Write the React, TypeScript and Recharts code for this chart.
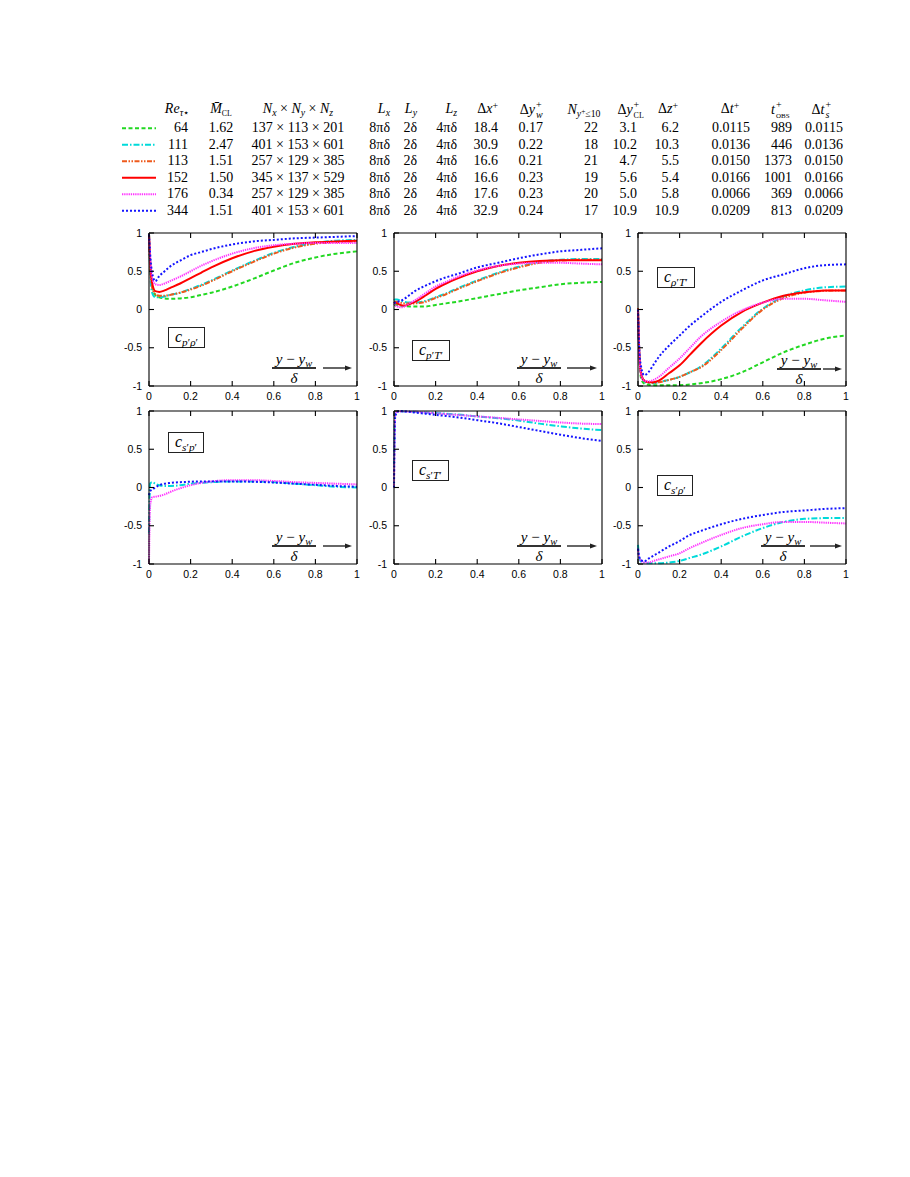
import React from "react";
import { LineChart, Line, XAxis, YAxis } from "recharts";

// wall distance (y - y_w)/delta, shared by every profile
const X = [0, 0.005, 0.015, 0.03, 0.05, 0.075, 0.1, 0.15, 0.2, 0.25, 0.3, 0.4, 0.5, 0.6, 0.7, 0.8, 0.9, 1];
const X_TICKS = [0, 0.2, 0.4, 0.6, 0.8, 1];
const Y_TICKS = [-1, -0.5, 0, 0.5, 1];

// c_{p'rho'}
const pRho64 = [0.98, 0.65, 0.3, 0.19, 0.16, 0.145, 0.14, 0.145, 0.16, 0.19, 0.22, 0.3, 0.4, 0.51, 0.61, 0.68, 0.73, 0.76];
const pRho111 = [0.98, 0.55, 0.22, 0.16, 0.16, 0.17, 0.19, 0.22, 0.27, 0.32, 0.38, 0.51, 0.63, 0.74, 0.82, 0.87, 0.9, 0.91];
const pRho113 = [0.98, 0.6, 0.3, 0.2, 0.18, 0.18, 0.19, 0.22, 0.26, 0.31, 0.37, 0.5, 0.62, 0.73, 0.81, 0.86, 0.88, 0.89];
const pRho152 = [0.98, 0.65, 0.35, 0.24, 0.23, 0.25, 0.28, 0.34, 0.41, 0.48, 0.55, 0.67, 0.76, 0.82, 0.86, 0.88, 0.89, 0.9];
const pRho176 = [0.98, 0.7, 0.42, 0.33, 0.32, 0.34, 0.37, 0.43, 0.5, 0.57, 0.63, 0.73, 0.8, 0.84, 0.86, 0.87, 0.87, 0.87];
const pRho344 = [0.98, 0.75, 0.48, 0.37, 0.44, 0.5, 0.56, 0.64, 0.71, 0.75, 0.79, 0.85, 0.89, 0.91, 0.93, 0.94, 0.95, 0.96];

// c_{p'T'}
const pT64 = [0.06, 0.06, 0.06, 0.05, 0.045, 0.04, 0.04, 0.04, 0.06, 0.08, 0.1, 0.15, 0.2, 0.25, 0.29, 0.33, 0.35, 0.36];
const pT111 = [0.12, 0.13, 0.13, 0.12, 0.1, 0.09, 0.09, 0.11, 0.16, 0.21, 0.27, 0.38, 0.48, 0.56, 0.62, 0.65, 0.66, 0.66];
const pT113 = [0.1, 0.1, 0.1, 0.09, 0.08, 0.08, 0.08, 0.1, 0.15, 0.2, 0.26, 0.37, 0.47, 0.55, 0.61, 0.64, 0.65, 0.65];
const pT152 = [0.1, 0.09, 0.08, 0.06, 0.05, 0.07, 0.1, 0.18, 0.27, 0.34, 0.4, 0.5, 0.57, 0.61, 0.635, 0.645, 0.645, 0.645];
const pT176 = [0.08, 0.06, 0.04, 0.03, 0.04, 0.08, 0.12, 0.21, 0.3, 0.36, 0.42, 0.51, 0.57, 0.6, 0.61, 0.61, 0.6, 0.59];
const pT344 = [0.08, 0.09, 0.1, 0.11, 0.14, 0.19, 0.24, 0.31, 0.37, 0.42, 0.46, 0.55, 0.61, 0.67, 0.72, 0.76, 0.78, 0.8];

// c_{rho'T'}
const rhoT64 = [0, -0.55, -0.9, -0.97, -0.985, -0.99, -0.99, -0.99, -0.99, -0.98, -0.965, -0.91, -0.82, -0.69, -0.56, -0.46, -0.38, -0.34];
const rhoT111 = [0, -0.5, -0.85, -0.94, -0.96, -0.965, -0.95, -0.92, -0.88, -0.82, -0.75, -0.51, -0.23, 0.01, 0.17, 0.25, 0.29, 0.3];
const rhoT113 = [0.02, -0.45, -0.82, -0.93, -0.95, -0.96, -0.95, -0.92, -0.88, -0.82, -0.76, -0.53, -0.25, 0, 0.15, 0.22, 0.245, 0.25];
const rhoT152 = [0, -0.5, -0.85, -0.93, -0.95, -0.95, -0.93, -0.83, -0.73, -0.59, -0.45, -0.21, -0.03, 0.09, 0.18, 0.225, 0.25, 0.25];
const rhoT176 = [0, -0.5, -0.85, -0.93, -0.94, -0.92, -0.88, -0.76, -0.64, -0.5, -0.36, -0.16, -0.01, 0.09, 0.14, 0.14, 0.12, 0.1];
const rhoT344 = [0, -0.45, -0.75, -0.86, -0.82, -0.72, -0.62, -0.47, -0.34, -0.21, -0.1, 0.1, 0.25, 0.38, 0.46, 0.54, 0.58, 0.59];

// c_{s'p'}
const sP111 = [-0.6, 0.05, 0.07, 0.05, 0.03, 0.02, 0.02, 0.03, 0.05, 0.06, 0.07, 0.08, 0.08, 0.07, 0.05, 0.03, 0.01, 0];
const sP176 = [-1, -0.25, -0.13, -0.12, -0.11, -0.09, -0.06, -0.01, 0.03, 0.06, 0.08, 0.095, 0.095, 0.085, 0.07, 0.06, 0.05, 0.04];
const sP344 = [-0.1, -0.05, -0.03, 0, 0.03, 0.05, 0.06, 0.07, 0.075, 0.08, 0.08, 0.08, 0.075, 0.065, 0.05, 0.035, 0.02, 0.01];

// c_{s'T'}
const sT111 = [0.3, 0.97, 0.99, 0.995, 0.995, 0.99, 0.99, 0.98, 0.975, 0.965, 0.955, 0.93, 0.905, 0.875, 0.835, 0.8, 0.77, 0.75];
const sT176 = [0, 0.95, 0.99, 0.995, 0.995, 0.99, 0.99, 0.98, 0.97, 0.96, 0.95, 0.93, 0.91, 0.89, 0.87, 0.85, 0.835, 0.83];
const sT344 = [0, 0.9, 0.99, 1, 0.995, 0.99, 0.98, 0.965, 0.95, 0.935, 0.92, 0.88, 0.84, 0.79, 0.74, 0.69, 0.645, 0.61];

// c_{s'rho'}
const sRho111 = [-0.75, -0.9, -0.97, -0.985, -0.99, -0.99, -0.99, -0.98, -0.96, -0.92, -0.88, -0.77, -0.64, -0.53, -0.45, -0.41, -0.4, -0.4];
const sRho176 = [-0.8, -0.9, -0.96, -0.98, -0.98, -0.96, -0.94, -0.9, -0.86, -0.79, -0.73, -0.62, -0.53, -0.48, -0.45, -0.45, -0.46, -0.47];
const sRho344 = [-0.8, -0.9, -0.95, -0.965, -0.93, -0.89, -0.85, -0.77, -0.7, -0.62, -0.57, -0.48, -0.41, -0.36, -0.32, -0.3, -0.28, -0.27];

// table of the six cases
const reTau = ["64", "111", "113", "152", "176", "344"];
const machCL = ["1.62", "2.47", "1.51", "1.50", "0.34", "1.51"];
const gridSize = ["137 × 113 × 201", "401 × 153 × 601", "257 × 129 × 385", "345 × 137 × 529", "257 × 129 × 385", "401 × 153 × 601"];
const lx = ["8πδ", "8πδ", "8πδ", "8πδ", "8πδ", "8πδ"];
const ly = ["2δ", "2δ", "2δ", "2δ", "2δ", "2δ"];
const lz = ["4πδ", "4πδ", "4πδ", "4πδ", "4πδ", "4πδ"];
const dxPlus = ["18.4", "30.9", "16.6", "16.6", "17.6", "32.9"];
const dywPlus = ["0.17", "0.22", "0.21", "0.23", "0.23", "0.24"];
const nyWall = ["22", "18", "21", "19", "20", "17"];
const dyclPlus = ["3.1", "10.2", "4.7", "5.6", "5.0", "10.9"];
const dzPlus = ["6.2", "10.3", "5.5", "5.4", "5.8", "10.9"];
const dtPlus = ["0.0115", "0.0136", "0.0150", "0.0166", "0.0066", "0.0209"];
const tObs = ["989", "446", "1373", "1001", "369", "813"];
const dtsPlus = ["0.0115", "0.0136", "0.0150", "0.0166", "0.0066", "0.0209"];

const CASES = ["re64", "re111", "re113", "re152", "re176", "re344"] as const;
type Case = (typeof CASES)[number];

const STYLE: Record<Case, { color: string; dash?: string }> = {
  re64: { color: "#22d822", dash: "4 2.5" },
  re111: { color: "#00dada", dash: "6 2 1.5 2" },
  re113: { color: "#ee5a1c", dash: "5 1.5 1.5 1.5 1.5 1.5" },
  re152: { color: "#ff0000" },
  re176: { color: "#ff33ff", dash: "1.3 0.9" },
  re344: { color: "#1414ff", dash: "2 2" },
};

const PAGE_W = 910;
const SERIF = "'Liberation Serif', 'Times New Roman', serif";
const SANS = "'Liberation Sans', Arial, sans-serif";

const Sub = ({ children }: { children: React.ReactNode }) => (
  <span style={{ fontSize: "0.7em", position: "relative", top: "0.32em" }}>{children}</span>
);
const Sup = ({ children }: { children: React.ReactNode }) => (
  <span style={{ fontSize: "0.7em", position: "relative", top: "-0.45em" }}>{children}</span>
);
// superscript stacked over a subscript
const SupSub = ({ sup, sub, w }: { sup: React.ReactNode; sub: React.ReactNode; w: number }) => (
  <span style={{ position: "relative", display: "inline-block", width: w, height: 14 }}>
    <span style={{ position: "absolute", left: 1, top: -1, fontSize: 10, lineHeight: "11px" }}>{sup}</span>
    <span style={{ position: "absolute", left: 1, top: 9, fontSize: 10, lineHeight: "11px" }}>{sub}</span>
  </span>
);

type Align = "right" | "center";
const Cell = ({ x, y, align, children }: { x: number; y: number; align: Align; children: React.ReactNode }) => (
  <div
    style={{
      position: "absolute",
      top: y - 9,
      height: 18,
      lineHeight: "18px",
      fontSize: 14,
      whiteSpace: "nowrap",
      ...(align === "right" ? { right: PAGE_W - x } : { left: x, transform: "translateX(-50%)" }),
    }}
  >
    {children}
  </div>
);

const HEAD_Y = 109;
const ROW_Y0 = 128.3;
const ROW_DY = 16.5;

const columns: { head: React.ReactNode; hx: number; ha: Align; vals: string[]; vx: number; va: Align }[] = [
  { head: <><i>Re</i><Sub><i>τ</i>⋆</Sub></>, hx: 177, ha: "center", vals: reTau, vx: 188, va: "right" },
  { head: <><i>M̄</i><Sub><span style={{ fontSize: "0.8em" }}>CL</span></Sub></>, hx: 221, ha: "center", vals: machCL, vx: 221, va: "center" },
  { head: <><i>N</i><Sub><i>x</i></Sub> × <i>N</i><Sub><i>y</i></Sub> × <i>N</i><Sub><i>z</i></Sub></>, hx: 298, ha: "center", vals: gridSize, vx: 298, va: "center" },
  { head: <><i>L</i><Sub><i>x</i></Sub></>, hx: 390, ha: "right", vals: lx, vx: 390, va: "right" },
  { head: <><i>L</i><Sub><i>y</i></Sub></>, hx: 417, ha: "right", vals: ly, vx: 417, va: "right" },
  { head: <><i>L</i><Sub><i>z</i></Sub></>, hx: 457, ha: "right", vals: lz, vx: 457, va: "right" },
  { head: <>Δ<i>x</i><Sup>+</Sup></>, hx: 498, ha: "right", vals: dxPlus, vx: 498, va: "right" },
  { head: <>Δ<i>y</i><SupSub sup="+" sub={<i>w</i>} w={8} /></>, hx: 543, ha: "right", vals: dywPlus, vx: 543, va: "right" },
  { head: <><i>N</i><Sub><i>y</i><span style={{ fontSize: "0.75em", verticalAlign: "0.4em" }}>+</span>≤10</Sub></>, hx: 584, ha: "center", vals: nyWall, vx: 591, va: "center" },
  { head: <>Δ<i>y</i><SupSub sup="+" sub={<span style={{ fontSize: 8 }}>CL</span>} w={12} /></>, hx: 631, ha: "center", vals: dyclPlus, vx: 637, va: "right" },
  { head: <>Δ<i>z</i><Sup>+</Sup></>, hx: 668, ha: "center", vals: dzPlus, vx: 679, va: "right" },
  { head: <>Δ<i>t</i><Sup>+</Sup></>, hx: 730, ha: "center", vals: dtPlus, vx: 750, va: "right" },
  { head: <><i>t</i><SupSub sup="+" sub={<span style={{ fontSize: 7 }}>OBS</span>} w={16} /></>, hx: 781, ha: "center", vals: tObs, vx: 792, va: "right" },
  { head: <>Δ<i>t</i><SupSub sup="+" sub={<i>s</i>} w={8} /></>, hx: 822, ha: "center", vals: dtsPlus, vx: 843, va: "right" },
];

function CaseTable() {
  return (
    <>
      <svg style={{ position: "absolute", left: 0, top: 0 }} width={PAGE_W} height={230}>
        {CASES.map((c, i) => (
          <line
            key={c}
            x1={122}
            x2={156}
            y1={ROW_Y0 + i * ROW_DY}
            y2={ROW_Y0 + i * ROW_DY}
            stroke={STYLE[c].color}
            strokeWidth={2}
            strokeDasharray={STYLE[c].dash}
          />
        ))}
      </svg>
      {columns.map((col, ci) => (
        <React.Fragment key={ci}>
          <Cell x={col.hx} y={HEAD_Y} align={col.ha}>{col.head}</Cell>
          {col.vals.map((v, i) => (
            <Cell key={i} x={col.vx} y={ROW_Y0 + i * ROW_DY} align={col.va}>{v}</Cell>
          ))}
        </React.Fragment>
      ))}
    </>
  );
}

const PLOT_W = 208;
const PLOT_H = 153;
const M = { top: 9, right: 11, bottom: 24, left: 44 };

function Fraction({ cx, ly, ax1, ax2 }: { cx: number; ly: number; ax1: number; ax2: number }) {
  return (
    <>
      <div style={{ position: "absolute", left: cx, top: ly - 17, transform: "translateX(-50%)", fontSize: 15, lineHeight: "16px", whiteSpace: "nowrap" }}>
        <i>y</i> − <i>y</i><Sub><i>w</i></Sub>
      </div>
      <div style={{ position: "absolute", left: cx - 22, top: ly - 0.6, width: 44, height: 1.3, background: "#333" }} />
      <div style={{ position: "absolute", left: cx, top: ly + 2, transform: "translateX(-50%)", fontSize: 15, lineHeight: "16px" }}>
        <i>δ</i>
      </div>
      <svg style={{ position: "absolute", left: ax1, top: ly - 4 }} width={ax2 - ax1 + 1} height={8}>
        <line x1={0} x2={ax2 - ax1 - 5} y1={4} y2={4} stroke="#333" strokeWidth={1.5} />
        <polygon points={`${ax2 - ax1 - 7},1.5 ${ax2 - ax1},4 ${ax2 - ax1 - 7},6.5`} fill="#222" />
      </svg>
    </>
  );
}

type PanelDef = {
  left: number;
  top: number;
  series: Partial<Record<Case, number[]>>;
  label: React.ReactNode;
  box: { x: number; y: number };
  frac: { cx: number; ly: number; ax1: number; ax2: number };
};

const panels: PanelDef[] = [
  {
    left: 149, top: 233,
    series: { re64: pRho64, re111: pRho111, re113: pRho113, re152: pRho152, re176: pRho176, re344: pRho344 },
    label: <><i>c</i><Sub><i>p</i>′<i>ρ</i>′</Sub></>,
    box: { x: 168, y: 327 },
    frac: { cx: 294, ly: 368, ax1: 323, ax2: 352 },
  },
  {
    left: 394, top: 233,
    series: { re64: pT64, re111: pT111, re113: pT113, re152: pT152, re176: pT176, re344: pT344 },
    label: <><i>c</i><Sub><i>p</i>′<i>T</i>′</Sub></>,
    box: { x: 412, y: 340 },
    frac: { cx: 539, ly: 368, ax1: 567, ax2: 597 },
  },
  {
    left: 638, top: 233,
    series: { re64: rhoT64, re111: rhoT111, re113: rhoT113, re152: rhoT152, re176: rhoT176, re344: rhoT344 },
    label: <><i>c</i><Sub><i>ρ</i>′<i>T</i>′</Sub></>,
    box: { x: 657, y: 267 },
    frac: { cx: 799, ly: 369, ax1: 823, ax2: 842 },
  },
  {
    left: 149, top: 411,
    series: { re111: sP111, re176: sP176, re344: sP344 },
    label: <><i>c</i><Sub><i>s</i>′<i>p</i>′</Sub></>,
    box: { x: 168, y: 432 },
    frac: { cx: 294, ly: 546, ax1: 323, ax2: 352 },
  },
  {
    left: 394, top: 411,
    series: { re111: sT111, re176: sT176, re344: sT344 },
    label: <><i>c</i><Sub><i>s</i>′<i>T</i>′</Sub></>,
    box: { x: 412, y: 460 },
    frac: { cx: 539, ly: 546, ax1: 567, ax2: 597 },
  },
  {
    left: 638, top: 411,
    series: { re111: sRho111, re176: sRho176, re344: sRho344 },
    label: <><i>c</i><Sub><i>s</i>′<i>ρ</i>′</Sub></>,
    box: { x: 657, y: 475 },
    frac: { cx: 783, ly: 546, ax1: 810, ax2: 842 },
  },
];

const axisStroke = { stroke: "#000", strokeWidth: 1.1 };
const tickFont = { fill: "#000", fontSize: 10.5, fontFamily: SANS };
const blank = () => "";

function Panel({ p }: { p: PanelDef }) {
  const keys = CASES.filter((c) => p.series[c]);
  const rows = X.map((x, i) => {
    const row: Record<string, number> = { x };
    for (const k of keys) row[k] = p.series[k]![i];
    return row;
  });
  const cw = M.left + 1 + PLOT_W + 1 + M.right;
  const ch = M.top + 1 + PLOT_H + 1 + M.bottom;
  return (
    <>
      <div style={{ position: "absolute", left: p.left - M.left - 1, top: p.top - M.top - 1 }}>
        <LineChart width={cw} height={ch} data={rows} margin={M}>
          <XAxis xAxisId="b" type="number" dataKey="x" domain={[0, 1]} ticks={X_TICKS} interval={0} height={1}
            tickSize={-5} tickMargin={12} axisLine={axisStroke} tickLine={axisStroke} tick={tickFont} />
          <XAxis xAxisId="t" orientation="top" type="number" dataKey="x" domain={[0, 1]} ticks={X_TICKS} interval={0} height={1}
            tickSize={-5} axisLine={axisStroke} tickLine={axisStroke} tickFormatter={blank} />
          <YAxis yAxisId="l" type="number" domain={[-1, 1]} ticks={Y_TICKS} interval={0} width={1}
            tickSize={-5} tickMargin={12} axisLine={axisStroke} tickLine={axisStroke} tick={tickFont} />
          <YAxis yAxisId="r" orientation="right" type="number" domain={[-1, 1]} ticks={Y_TICKS} interval={0} width={1}
            tickSize={-5} axisLine={axisStroke} tickLine={axisStroke} tickFormatter={blank} />
          {keys.map((k) => (
            <Line
              key={k}
              xAxisId="b"
              yAxisId="l"
              type="monotone"
              dataKey={k}
              stroke={STYLE[k].color}
              strokeWidth={2}
              strokeDasharray={STYLE[k].dash}
              dot={false}
              activeDot={false}
              isAnimationActive={false}
            />
          ))}
        </LineChart>
      </div>
      <div
        style={{
          position: "absolute",
          left: p.box.x,
          top: p.box.y,
          border: "1.4px solid #222",
          background: "#fff",
          padding: "0 6px",
          height: 19,
          lineHeight: "17px",
          fontSize: 16,
          whiteSpace: "nowrap",
        }}
      >
        {p.label}
      </div>
      <Fraction {...p.frac} />
    </>
  );
}

export default function App() {
  return (
    <div
      style={{
        position: "absolute",
        left: 0,
        top: 0,
        width: PAGE_W,
        height: 1177,
        background: "#fff",
        fontFamily: SERIF,
        color: "#000",
      }}
    >
      <CaseTable />
      {panels.map((p, i) => (
        <Panel key={i} p={p} />
      ))}
    </div>
  );
}
